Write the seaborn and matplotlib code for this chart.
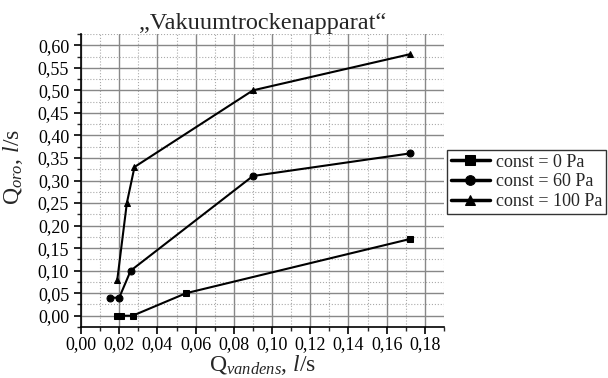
import matplotlib
matplotlib.use("Agg")
import matplotlib.pyplot as plt
import seaborn as sns
import pandas as pd
from matplotlib.ticker import MultipleLocator, FuncFormatter

series_names = ["const = 0 Pa", "const = 60 Pa", "const = 100 Pa"]
x_0pa = [0.019, 0.021, 0.027, 0.055, 0.172]
y_0pa = [0.00, 0.00, 0.00, 0.05, 0.17]
x_60pa = [0.015, 0.020, 0.026, 0.090, 0.172]
y_60pa = [0.04, 0.04, 0.10, 0.31, 0.36]
x_100pa = [0.019, 0.024, 0.028, 0.090, 0.172]
y_100pa = [0.08, 0.25, 0.33, 0.50, 0.58]

rows = []
for name, xs, ys in zip(series_names, [x_0pa, x_60pa, x_100pa], [y_0pa, y_60pa, y_100pa]):
    for xv, yv in zip(xs, ys):
        rows.append({"x": xv, "y": yv, "series": name})
df = pd.DataFrame(rows)

sns.set_style("white")
plt.rcParams["font.family"] = ["Liberation Serif", "DejaVu Serif"]
plt.rcParams["mathtext.fontset"] = "custom"
plt.rcParams["mathtext.rm"] = "Liberation Serif"
plt.rcParams["mathtext.it"] = "Liberation Serif:italic"

fig = plt.figure(figsize=(6.08, 3.78), dpi=100)
ax = fig.add_axes([81/608, 1 - 327/378, (444-81)/608, (327-34)/378])

sns.lineplot(data=df, x="x", y="y", hue="series", style="series",
             markers=["s", "o", "^"], dashes=False,
             palette=["black"] * 3, sort=False, ax=ax,
             linewidth=1.5, markersize=5, markeredgecolor="black")

ax.set_xlim(0, 0.19)
ax.set_ylim(-0.025, 0.625)
ax.xaxis.set_major_locator(MultipleLocator(0.02))
ax.xaxis.set_minor_locator(MultipleLocator(0.01))
ax.yaxis.set_major_locator(MultipleLocator(0.05))
ax.yaxis.set_minor_locator(MultipleLocator(0.025))
ax.xaxis.set_major_formatter(FuncFormatter(lambda v, p: f"{v:.2f}".replace(".", ",")))
ax.yaxis.set_major_formatter(FuncFormatter(lambda v, p: f"{v:.2f}".replace(".", ",")))

ax.grid(which="major", color="#888888", linewidth=1.0, linestyle="-")
ax.grid(which="minor", color="#aaaaaa", linewidth=0.8, linestyle=":")
ax.set_axisbelow(True)

for s in ["top", "right"]:
    ax.spines[s].set_visible(False)
for s in ["left", "bottom"]:
    ax.spines[s].set_color("black")
    ax.spines[s].set_linewidth(1.2)

ax.tick_params(which="major", direction="out", length=5, width=1.2, labelsize=13,
               left=True, bottom=True, colors="black")
ax.tick_params(axis="x", which="major", pad=1.5)
ax.tick_params(which="minor", direction="out", length=3, width=1.0,
               left=True, bottom=True)

ax.set_xlabel(r"Q$_{\mathit{vandens}}$, $\mathit{l}$/s", fontsize=17, labelpad=0)
ax.set_ylabel(r"Q$_{\mathit{oro}}$, $\mathit{l}$/s", fontsize=17)
ax.yaxis.set_label_coords((25 - 81) / 363, (327 - 167) / 293)
ax.set_title("\u201eVakuumtrockenapparat\u201c", fontsize=17.5, pad=2)

leg = ax.legend(loc="upper left", bbox_to_anchor=((447-81)/(444-81), (327-150)/(327-34)),
                frameon=True, fancybox=False, edgecolor="black", fontsize=13,
                handlelength=2.2, handletextpad=0.3, borderpad=0.2,
                labelspacing=0.15, borderaxespad=0)
leg.get_frame().set_linewidth(1.0)
for h in leg.legend_handles:
    h.set_linewidth(2.5)
    h.set_markersize(7)

fig.savefig("out.png", dpi=100)
